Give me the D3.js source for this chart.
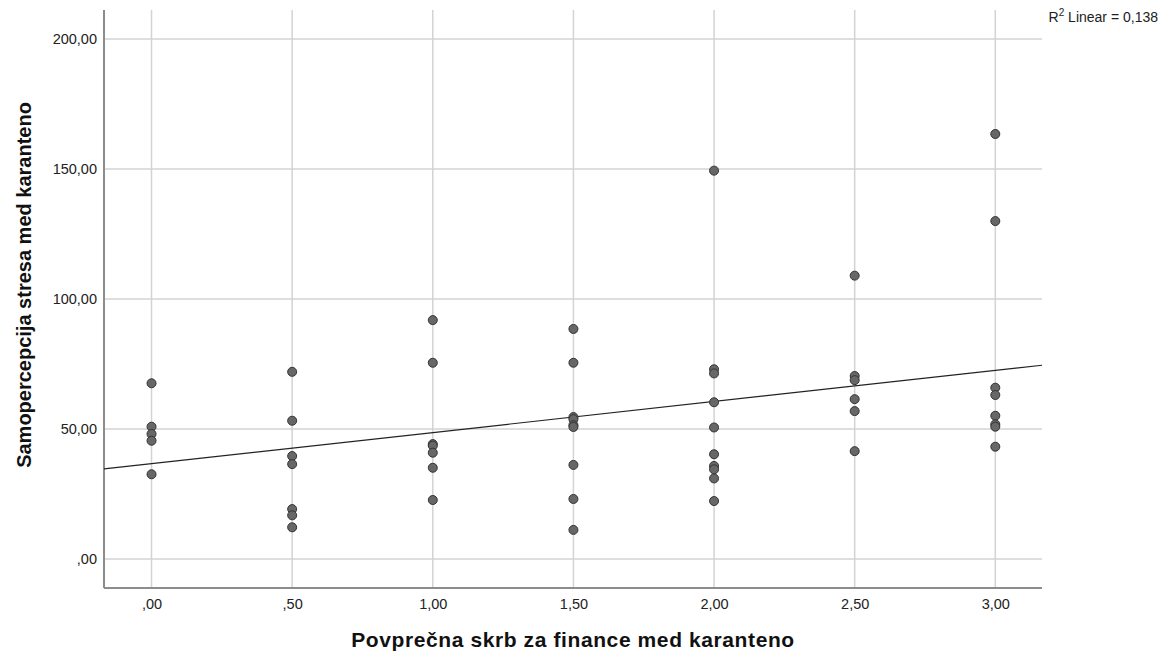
<!DOCTYPE html>
<html><head><meta charset="utf-8">
<script src="https://cdn.jsdelivr.net/npm/d3@7"></script>
<style>body{margin:0;background:#fff}svg{display:block}</style>
</head><body>
<svg id="chart" width="1163" height="652"></svg>
<script>
const xValues = [0,0,0,0,0,
  0.5,0.5,0.5,0.5,0.5,0.5,0.5,
  1,1,1,1,1,1,1,
  1.5,1.5,1.5,1.5,1.5,1.5,1.5,1.5,1.5,
  2,2,2,2,2,2,2,2,2,2,
  2.5,2.5,2.5,2.5,2.5,2.5,
  3,3,3,3,3,3,3,3];
const yValues = [67.6,50.9,48.1,45.5,32.6,
  72.0,53.2,39.6,36.5,19.2,16.8,12.2,
  91.9,75.5,44.2,43.6,40.9,35.1,22.7,
  88.5,75.5,54.6,53.8,51.5,50.8,36.2,23.1,11.2,
  149.4,73.0,71.4,60.3,50.6,40.3,35.8,34.5,31.0,22.3,
  109.0,70.4,68.8,61.5,56.9,41.5,
  163.5,130.0,65.9,63.1,55.1,51.8,50.9,43.2];
const xTicks = [0,0.5,1,1.5,2,2.5,3];
const yTicks = [0,50,100,150,200];
const fitIntercept = 36.7, fitSlope = 11.95;
const xDomain = [-0.169, 3.166], yDomain = [-11.15, 211.2];
const r2Label = "0,138";
const xTitle = "Povprečna skrb za finance med karanteno";
const yTitle = "Samopercepcija stresa med karanteno";

const svg = d3.select("#chart");
const L = 104, R = 1042, T = 10, B = 588;
const x = d3.scaleLinear().domain(xDomain).range([L, R]);
const y = d3.scaleLinear().domain(yDomain).range([B, T]);
const fmt = v => { let s = d3.format(".2f")(v).replace(".", ","); if (s.startsWith("0,")) s = s.slice(1); return s; };
const font = "'Liberation Sans', Arial, sans-serif";

// grid
svg.append("g").selectAll("line").data(yTicks).join("line")
  .attr("x1", L).attr("x2", R).attr("y1", d => y(d)).attr("y2", d => y(d))
  .attr("stroke", "#d3d3d3").attr("stroke-width", 1.5);
svg.append("g").selectAll("line").data(xTicks).join("line")
  .attr("y1", T).attr("y2", B).attr("x1", d => x(d)).attr("x2", d => x(d))
  .attr("stroke", "#d3d3d3").attr("stroke-width", 1.5);

// axes
const xAxis = d3.axisBottom(x).tickValues(xTicks).tickFormat(fmt).tickSize(0).tickPadding(11);
const gx = svg.append("g").attr("transform", `translate(0,${B})`).call(xAxis);
const yAxis = d3.axisLeft(y).tickValues(yTicks).tickFormat(fmt).tickSize(0).tickPadding(7);
const gy = svg.append("g").attr("transform", `translate(${L},0)`).call(yAxis);
[gx, gy].forEach(g => {
  g.select(".domain").attr("stroke", "#8c8c8c").attr("stroke-width", 2);
  g.selectAll("text").attr("font-family", font).attr("font-size", 14.5).attr("fill", "#222");
});
gx.select(".domain").attr("d", `M${L},0H${R}`);
gy.select(".domain").attr("d", `M0,${T}V${B}`);

// fit line
svg.append("line")
  .attr("x1", x(xDomain[0])).attr("y1", y(fitIntercept + fitSlope * xDomain[0]))
  .attr("x2", x(xDomain[1])).attr("y2", y(fitIntercept + fitSlope * xDomain[1]))
  .attr("stroke", "#222").attr("stroke-width", 1.2);

// points
svg.append("g").selectAll("circle").data(xValues.map((v, i) => [v, yValues[i]])).join("circle")
  .attr("cx", d => x(d[0])).attr("cy", d => y(d[1])).attr("r", 4.5)
  .attr("fill", "#676767").attr("stroke", "#333").attr("stroke-width", 1);

// titles
svg.append("text").attr("x", (L + R) / 2).attr("y", 647).attr("text-anchor", "middle")
  .attr("font-family", font).attr("font-size", 21).attr("font-weight", "bold").attr("fill", "#111")
  .attr("letter-spacing", 0.6)
  .text(xTitle);
svg.append("text").attr("transform", `translate(31,285) rotate(-90)`).attr("text-anchor", "middle")
  .attr("font-family", font).attr("font-size", 20).attr("font-weight", "bold").attr("fill", "#111")
  .text(yTitle);

// R2 label
const rl = svg.append("text").attr("x", 1158).attr("y", 22).attr("text-anchor", "end")
  .attr("font-family", font).attr("font-size", 14).attr("fill", "#222");
rl.append("tspan").text("R");
rl.append("tspan").attr("dy", -6).attr("font-size", 10).text("2");
rl.append("tspan").attr("dy", 6).text(" Linear = " + r2Label);
</script>
</body></html>
